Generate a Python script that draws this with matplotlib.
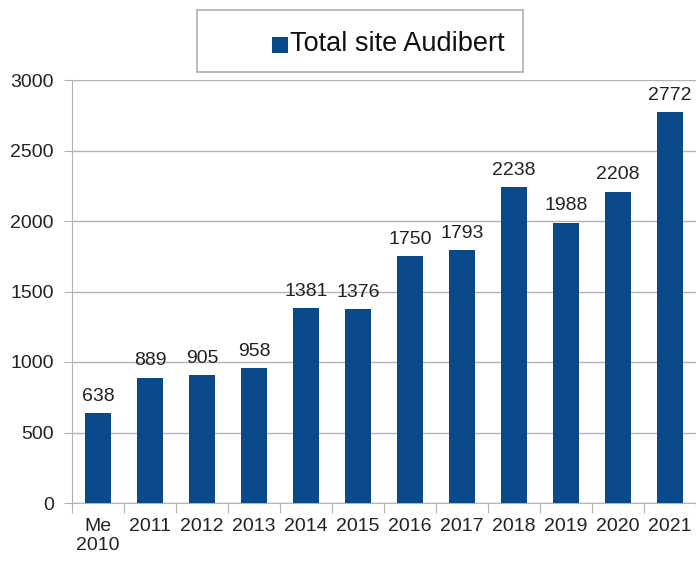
"""Bar chart: Total site Audibert."""

import matplotlib.pyplot as plt
from matplotlib.patches import Rectangle

categories = ["Me\n2010", "2011", "2012", "2013", "2014", "2015", "2016",
              "2017", "2018", "2019", "2020", "2021"]
totals = [638, 889, 905, 958, 1381, 1376, 1750, 1793, 2238, 1988, 2208, 2772]
y_ticks = [0, 500, 1000, 1500, 2000, 2500, 3000]

BAR_COLOR = "#0b4a8a"
GRID_COLOR = "#b3b3b3"
TEXT_COLOR = "#222222"


def main():
    plt.rcParams["font.family"] = ["Liberation Sans", "DejaVu Sans"]
    fig = plt.figure(figsize=(6.96, 5.61), dpi=100)
    ax = fig.add_axes([72 / 696, 58 / 561, 624 / 696, 423 / 561])

    x = list(range(len(categories)))
    bars = ax.bar(x, totals, width=0.5, color=BAR_COLOR, zorder=3)
    for rect, val in zip(bars, totals):
        ax.annotate(str(val), (rect.get_x() + rect.get_width() / 2, val),
                    xytext=(0, 6), textcoords="offset points",
                    ha="center", va="bottom", fontsize=14, color=TEXT_COLOR)

    ax.set_xlim(-0.5, len(categories) - 0.5)
    ax.set_ylim(0, 3000)
    ax.set_yticks(y_ticks)
    ax.tick_params(axis="y", labelsize=14, length=6, color=GRID_COLOR,
                   labelcolor=TEXT_COLOR, pad=7)
    ax.grid(True, axis="y", color=GRID_COLOR, linewidth=1, zorder=0)

    # ticks at category boundaries, labels at category centres
    ax.set_xticks([i - 0.5 for i in x] + [len(categories) - 0.5])
    ax.set_xticklabels([])
    ax.set_xticks(x, minor=True)
    ax.set_xticklabels(categories, minor=True, fontsize=14, color=TEXT_COLOR,
                       linespacing=1.15)
    ax.tick_params(axis="x", which="major", length=7, color=GRID_COLOR)
    ax.tick_params(axis="x", which="minor", length=0, pad=11)

    for side in ("top", "right"):
        ax.spines[side].set_visible(False)
    for side in ("left", "bottom"):
        ax.spines[side].set_color(GRID_COLOR)

    # legend box
    fig.patches.append(Rectangle((197 / 696, 1 - 72 / 561), 326 / 696,
                                 62 / 561, transform=fig.transFigure,
                                 facecolor="white", edgecolor="#b0b0b0",
                                 linewidth=1.2))
    fig.patches.append(Rectangle((272 / 696, 1 - 53 / 561), 16 / 696,
                                 16 / 561, transform=fig.transFigure,
                                 facecolor=BAR_COLOR, edgecolor="none"))
    fig.text(290 / 696, 1 - 44 / 561, "Total site Audibert", fontsize=19.5,
             va="center", ha="left", color="#111111")

    fig.savefig("out.png", dpi=100)


if __name__ == "__main__":
    main()
